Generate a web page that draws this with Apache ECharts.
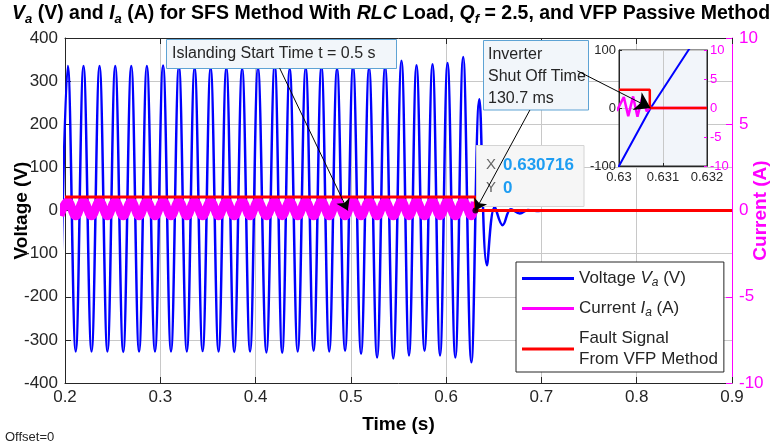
<!DOCTYPE html>
<html><head><meta charset="utf-8">
<script src="https://cdn.jsdelivr.net/npm/echarts@6/dist/echarts.min.js"></script>
<style>html,body{margin:0;padding:0;background:#fff}#c{width:771px;height:447px}</style>
</head><body><div id="c"></div>
<script>
// ---- data ----
const voltTime = [0.19466, 0.20294, 0.21124, 0.21943, 0.22784, 0.23624, 0.24454, 0.25273, 0.26113, 0.26954,
  0.27773, 0.28592, 0.29443, 0.30294, 0.31124, 0.31954, 0.32784, 0.33603, 0.34443, 0.35284,
  0.36113, 0.36933, 0.37763, 0.38592, 0.39422, 0.40252, 0.41134, 0.42006, 0.42794, 0.43582,
  0.44422, 0.45263, 0.46092, 0.46912, 0.47731, 0.48550, 0.49391, 0.50231, 0.51071, 0.51912,
  0.52752, 0.53592, 0.54454, 0.55315, 0.56103, 0.56891, 0.57731, 0.58571, 0.59359, 0.60147,
  0.60966, 0.61786, 0.62650, 0.63490, 0.64280, 0.65100, 0.65930, 0.66800, 0.67740, 0.68580,
  0.69500, 0.70400, 0.72000, 0.90000];
const voltValue = [-327, 335, -327, 335, -327, 335, -327, 335, -328, 335,
  -327, 335, -327, 336, -327, 335, -327, 331, -326, 331,
  -327, 331, -328, 329, -327, 331, -329, 339, -330, 329,
  -327, 331, -325, 334, -327, 329, -325, 334, -332, 331,
  -341, 334, -343, 347, -336, 337, -325, 339, -336, 342,
  -341, 356, -352, 258, -127, 8, -34, 3, -7, 1,
  -1, 0, 0, 0];
const currTime = [0.19466, 0.20294, 0.21124, 0.21943, 0.22784, 0.23624, 0.24454, 0.25273, 0.26113, 0.26954,
  0.27773, 0.28592, 0.29443, 0.30294, 0.31124, 0.31954, 0.32784, 0.33603, 0.34443, 0.35284,
  0.36113, 0.36933, 0.37763, 0.38592, 0.39422, 0.40252, 0.41134, 0.42006, 0.42794, 0.43582,
  0.44422, 0.45263, 0.46092, 0.46912, 0.47731, 0.48550, 0.49391, 0.50231, 0.51071, 0.51912,
  0.52752, 0.53592, 0.54454, 0.55315, 0.56103, 0.56891, 0.57731, 0.58571, 0.59359, 0.60147,
  0.60966, 0.61786, 0.62650, 0.63050];
const currValue = [-0.30, 0.52, -0.30, 0.52, -0.30, 0.52, -0.30, 0.52, -0.30, 0.52,
  -0.30, 0.52, -0.30, 0.52, -0.30, 0.52, -0.30, 0.52, -0.30, 0.52,
  -0.30, 0.52, -0.30, 0.52, -0.30, 0.52, -0.30, 0.52, -0.30, 0.52,
  -0.30, 0.52, -0.30, 0.52, -0.30, 0.52, -0.30, 0.52, -0.30, 0.52,
  -0.30, 0.52, -0.30, 0.52, -0.30, 0.52, -0.30, 0.52, -0.30, 0.52,
  -0.30, 0.52, -0.30, 0.50];
const faultTime = [0.2, 0.6307, 0.6307, 0.9];
const faultValue = [31.5, 31.5, 0, 0];
// inset (zoom on the shut-off instant)
const insetVoltTime = [0.6299, 0.6300, 0.63072, 0.63158, 0.6317];
const insetVoltValue = [-114, -100, 0, 100, 114];
const insetCurrTime = [0.62995, 0.63011, 0.63021, 0.63032, 0.63042, 0.63053, 0.63063, 0.6307, 0.632];
const insetCurrValue = [-0.5, 1.9, -1.4, 2.0, -1.5, 1.9, -0.6, 0, 0];
const insetFaultTime = [0.63, 0.6307, 0.6307, 0.632];
const insetFaultValue = [31.5, 31.5, 0, 0];
// data tip
const tipX = 0.630716, tipY = 0;
// axis ticks
const xTicks = {min: 0.2, max: 0.9, step: 0.1};
const yLeftTicks = {min: -400, max: 400, step: 100};
const yRightTicks = {min: -10, max: 10, step: 5};
const insetXTicks = {min: 0.63, max: 0.632, step: 0.001};
const insetYLeftTicks = {min: -100, max: 100, step: 100};

const FONT = '"Liberation Sans", Arial, Helvetica, sans-serif';
const INK = '#262626';
const MAG = '#ff00ff';
const GRID = '#c8c8c8';
const pairs = (ts, vs) => ts.map((t, i) => [t, vs[i]]);

const chart = echarts.init(document.getElementById('c'));
const legendNames = {
  voltage: 'Voltage {i|V}{s|a} (V)',
  current: 'Current {i|I}{s|a} (A)',
  fault: 'Fault Signal\nFrom VFP Method'
};

function axisCommon(color) {
  return {
    axisLine: {show: true, onZero: false, lineStyle: {color: color, width: 1}},
    axisTick: {show: true, inside: true, length: 6, lineStyle: {color: color}},
  };
}

const option = {
  animation: false,
  backgroundColor: '#fff',
  textStyle: {fontFamily: FONT},
  title: {
    text: '{i|V}{s|a} (V) and {i|I}{s|a} (A) for SFS Method With {i|RLC} Load, {i|Q}{s|f} = 2.5, and VFP Passive Method',
    left: 12, top: 1, padding: 0,
    textStyle: {
      fontSize: 19.5, fontWeight: 'bold', color: '#000', fontFamily: FONT, lineHeight: 25,
      rich: {
        i: {fontStyle: 'italic', fontWeight: 'bold', fontSize: 19.5, fontFamily: FONT, color: '#000', lineHeight: 25},
        s: {fontStyle: 'italic', fontWeight: 'bold', fontSize: 13, fontFamily: FONT, color: '#000', lineHeight: 13, verticalAlign: 'bottom'}
      }
    }
  },
  legend: {
    data: ['voltage', 'current', 'fault'],
    orient: 'vertical', left: 516, top: 262,
    icon: 'rect', itemWidth: 52, itemHeight: 3, itemGap: 9, itemTextGap: 5,
    padding: [6, 6, 2, 6],
    backgroundColor: '#fff', borderColor: INK, borderWidth: 1, borderRadius: 0,
    selectedMode: false,
    formatter: n => legendNames[n],
    textStyle: {
      fontSize: 17, color: INK, fontFamily: FONT, lineHeight: 21,
      rich: {
        i: {fontStyle: 'italic', fontSize: 17, color: INK, fontFamily: FONT, lineHeight: 21},
        s: {fontStyle: 'italic', fontSize: 12, color: INK, fontFamily: FONT, lineHeight: 12, verticalAlign: 'bottom'}
      }
    }
  },
  grid: [
    {left: 65, top: 38, width: 667, height: 345, show: false, containLabel: false, outerBoundsMode: 'none'},
    {left: 619, top: 50, width: 88, height: 116, show: true, backgroundColor: '#f2f5fa', borderColor: INK, borderWidth: 1, z: 1,
     containLabel: false, outerBoundsMode: 'none'}
  ],
  xAxis: [
    Object.assign({
      gridIndex: 0, type: 'value', min: xTicks.min, max: xTicks.max, interval: xTicks.step, position: 'bottom',
      name: 'Time (s)', nameLocation: 'middle', nameGap: 32, nameMoveOverlap: false,
      nameTextStyle: {fontSize: 19, fontWeight: 'bold', color: '#000', fontFamily: FONT},
      axisLabel: {color: INK, fontSize: 17, margin: 6, fontFamily: FONT, formatter: v => v.toFixed(1)},
      splitLine: {show: true, lineStyle: {color: GRID, width: 1}}
    }, axisCommon(INK)),
    Object.assign({
      gridIndex: 0, type: 'value', min: xTicks.min, max: xTicks.max, interval: xTicks.step, position: 'top',
      axisLabel: {show: false}, splitLine: {show: false}
    }, axisCommon(INK)),
    {
      gridIndex: 1, type: 'value', min: insetXTicks.min, max: insetXTicks.max, interval: insetXTicks.step, z: 2,
      axisLine: {show: true, onZero: false, lineStyle: {color: INK}},
      axisTick: {show: true, inside: true, length: 3, lineStyle: {color: INK}},
      axisLabel: {color: INK, fontSize: 13, margin: 5, fontFamily: FONT, formatter: v => String(parseFloat(v.toFixed(3)))},
      splitLine: {show: true, lineStyle: {color: GRID, width: 1}}
    }
  ],
  yAxis: [
    Object.assign({
      gridIndex: 0, type: 'value', min: yLeftTicks.min, max: yLeftTicks.max, interval: yLeftTicks.step, position: 'left',
      name: 'Voltage (V)', nameLocation: 'middle', nameGap: 34, nameRotate: 90, nameMoveOverlap: false,
      nameTextStyle: {fontSize: 19, fontWeight: 'bold', color: '#000', fontFamily: FONT},
      axisLabel: {color: INK, fontSize: 17, margin: 7, fontFamily: FONT},
      splitLine: {show: true, lineStyle: {color: GRID, width: 1}}
    }, axisCommon(INK)),
    Object.assign({
      gridIndex: 0, type: 'value', min: yRightTicks.min, max: yRightTicks.max, interval: yRightTicks.step, position: 'right',
      name: 'Current (A)', nameLocation: 'middle', nameGap: 19, nameRotate: 90, nameMoveOverlap: false,
      nameTextStyle: {fontSize: 19, fontWeight: 'bold', color: MAG, fontFamily: FONT},
      axisLabel: {color: MAG, fontSize: 17, margin: 7, fontFamily: FONT},
      splitLine: {show: false}
    }, axisCommon(MAG)),
    {
      gridIndex: 1, type: 'value', min: insetYLeftTicks.min, max: insetYLeftTicks.max, interval: insetYLeftTicks.step, position: 'left', z: 2,
      axisLine: {show: true, onZero: false, lineStyle: {color: INK}},
      axisTick: {show: true, inside: true, length: 3, lineStyle: {color: INK}},
      axisLabel: {color: INK, fontSize: 13, margin: 3, fontFamily: FONT},
      splitLine: {show: true, lineStyle: {color: GRID, width: 1}}
    },
    {
      gridIndex: 1, type: 'value', min: yRightTicks.min, max: yRightTicks.max, interval: yRightTicks.step, position: 'right', z: 2,
      axisLine: {show: true, onZero: false, lineStyle: {color: INK}},
      axisTick: {show: true, inside: true, length: 3, lineStyle: {color: MAG}},
      axisLabel: {color: MAG, fontSize: 13, margin: 3, fontFamily: FONT},
      splitLine: {show: false}
    }
  ],
  series: [
    {name: 'voltage', type: 'line', xAxisIndex: 0, yAxisIndex: 0, data: pairs(voltTime, voltValue),
     smooth: 0.4, symbol: 'none', lineStyle: {color: '#0000ff', width: 2.5}, itemStyle: {color: '#0000ff'}, z: 2},
    {name: 'current', type: 'line', xAxisIndex: 0, yAxisIndex: 1, data: pairs(currTime, currValue),
     smooth: 0.4, symbol: 'none', lineStyle: {color: MAG, width: 9}, itemStyle: {color: MAG}, z: 3},
    {name: 'fault', type: 'line', xAxisIndex: 0, yAxisIndex: 0, data: pairs(faultTime, faultValue),
     symbol: 'none', lineStyle: {color: '#ff0000', width: 3}, itemStyle: {color: '#ff0000'}, z: 4},
    {name: 'voltage', type: 'line', xAxisIndex: 2, yAxisIndex: 2, data: pairs(insetVoltTime, insetVoltValue),
     symbol: 'none', lineStyle: {color: '#0000ff', width: 2}, itemStyle: {color: '#0000ff'}, z: 5},
    {name: 'current', type: 'line', xAxisIndex: 2, yAxisIndex: 3, data: pairs(insetCurrTime, insetCurrValue),
     symbol: 'none', lineStyle: {color: MAG, width: 2.5}, itemStyle: {color: MAG}, z: 5},
    {name: 'fault', type: 'line', xAxisIndex: 2, yAxisIndex: 2, data: pairs(insetFaultTime, insetFaultValue), clip: false,
     symbol: 'none', lineStyle: {color: '#ff0000', width: 2.5}, itemStyle: {color: '#ff0000'}, z: 6},
    {type: 'scatter', xAxisIndex: 0, yAxisIndex: 0, data: [[tipX, tipY]], symbolSize: 6,
     itemStyle: {color: '#000'}, z: 100, silent: true},
    {type: 'lines', coordinateSystem: 'cartesian2d', xAxisIndex: 0, yAxisIndex: 0, clip: false, z: 100,
     symbol: ['none', 'arrow'], symbolSize: 11, lineStyle: {color: '#000', width: 1, opacity: 1, curveness: 0},
     data: [
       {coords: [[0.4253, 330], [0.4968, 0]]},
       {coords: [[0.6879, 233], [tipX, tipY]]}
     ]},
    {type: 'lines', coordinateSystem: 'cartesian2d', xAxisIndex: 2, yAxisIndex: 2, clip: false, z: 100,
     symbol: ['none', 'arrow'], symbolSize: 15, lineStyle: {color: '#000', width: 1, opacity: 1, curveness: 0},
     data: [{coords: [[0.629055, 64], [tipX, tipY]]}]}
  ],
  graphic: [
    {type: 'rect', z: 50, shape: {x: 166.5, y: 39.5, width: 230, height: 29},
     style: {fill: '#f2f6fa', stroke: '#5ea3d4', lineWidth: 1}},
    {type: 'text', z: 51, x: 172, y: 54, style: {text: 'Islanding Start Time t = 0.5 s', fontSize: 16, fontFamily: FONT, fill: INK, verticalAlign: 'middle'}},
    {type: 'rect', z: 50, shape: {x: 483.5, y: 40.5, width: 105, height: 69.5},
     style: {fill: '#f2f6fa', stroke: '#5ea3d4', lineWidth: 1}},
    {type: 'text', z: 51, x: 488, y: 44, style: {text: 'Inverter\nShut Off Time\n130.7 ms', fontSize: 16, lineHeight: 21.7, fontFamily: FONT, fill: INK, verticalAlign: 'top'}},
    {type: 'rect', z: 50, shape: {x: 476.5, y: 145.5, width: 107.5, height: 61},
     style: {fill: '#f6f6f6', stroke: '#d4d4d4', lineWidth: 1}},
    {type: 'text', z: 51, x: 486, y: 165, style: {text: 'X', fontSize: 15, fontFamily: FONT, fill: '#666', verticalAlign: 'middle'}},
    {type: 'text', z: 51, x: 503, y: 165, style: {text: '0.630716', fontSize: 17, fontWeight: 'bold', fontFamily: FONT, fill: '#1e9df2', verticalAlign: 'middle'}},
    {type: 'text', z: 51, x: 486, y: 188, style: {text: 'Y', fontSize: 15, fontFamily: FONT, fill: '#666', verticalAlign: 'middle'}},
    {type: 'text', z: 51, x: 503, y: 188, style: {text: '0', fontSize: 17, fontWeight: 'bold', fontFamily: FONT, fill: '#1e9df2', verticalAlign: 'middle'}},
    {type: 'text', z: 51, x: 5, y: 437, style: {text: 'Offset=0', fontSize: 13, fontFamily: FONT, fill: INK, verticalAlign: 'middle'}}
  ]
};
chart.setOption(option);
</script>
</body></html>
